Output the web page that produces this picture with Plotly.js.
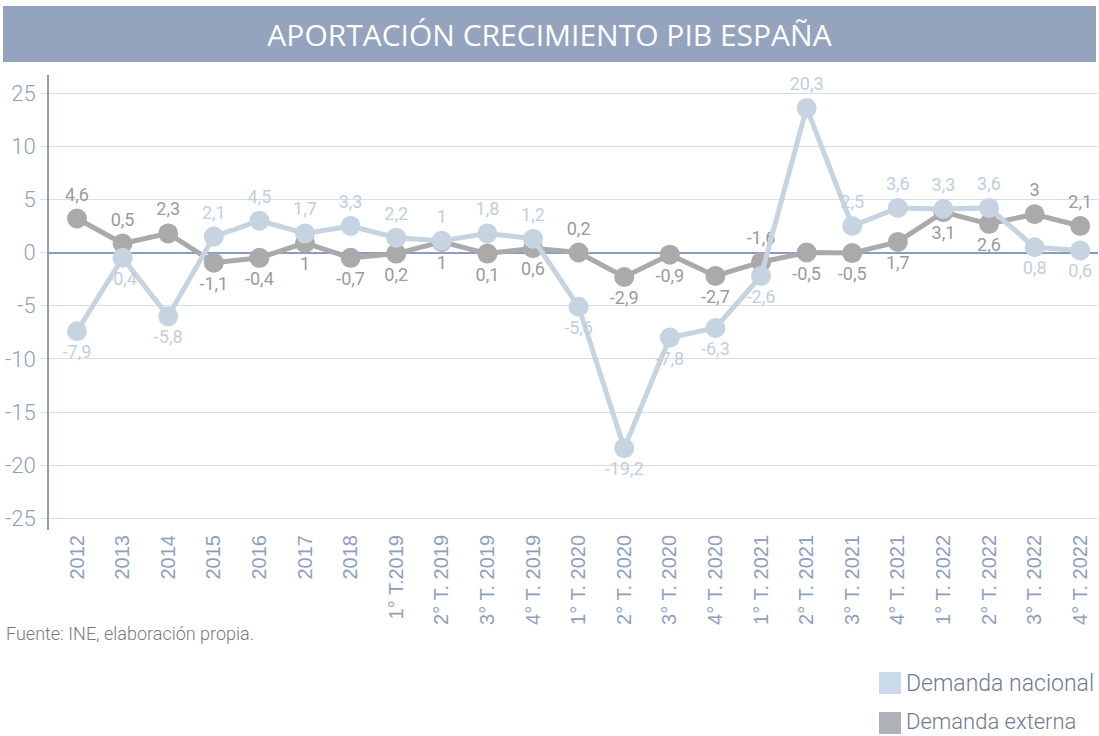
<!DOCTYPE html>
<html>
<head>
<meta charset="utf-8">
<script src="https://cdn.plot.ly/plotly-3.0.1.min.js"></script>
<style>html,body{margin:0;padding:0;background:#fff;}#chart{width:1099px;height:736px;}</style>
</head>
<body>
<div id="chart"></div>
<script>
// Categories
const categories = ["2012","2013","2014","2015","2016","2017","2018",
  "1° T.2019","2° T. 2019","3° T. 2019","4° T. 2019",
  "1° T. 2020","2° T. 2020","3° T. 2020","4° T. 2020",
  "1° T. 2021","2° T. 2021","3° T. 2021","4° T. 2021",
  "1° T. 2022","2° T. 2022","3° T. 2022","4° T. 2022"];

// Plotted positions
const nacionalValues = [-7.4,-0.5,-6.0,1.5,3.0,1.8,2.5,1.4,1.1,1.8,1.3,-5.1,-18.4,-8.0,-7.1,-2.2,13.6,2.5,4.2,4.1,4.2,0.5,0.2];
const externaValues  = [3.2,0.85,1.8,-0.95,-0.5,0.9,-0.5,-0.1,1.0,-0.1,0.4,0.0,-2.3,-0.2,-2.2,-0.9,0.0,-0.05,1.0,3.8,2.7,3.6,2.5];

// Printed data labels
const nacionalLabels = ["-7,9","-0,4","-5,8","2,1","4,5","1,7","3,3","2,2","1","1,8","1,2","-5,6","-19,2","-7,8","-6,3","-2,6","20,3","2,5","3,6","3,3","3,6","0,8","0,6"];
const externaLabels  = ["4,6","0,5","2,3","-1,1","-0,4","1","-0,7","0,2","1","0,1","0,6","0,2","-2,9","-0,9","-2,7","-1,6","-0,5","-0,5","1,7","3,1","2,6","3","2,1"];

// Y tick labels
const yTickVals = [-25,-20,-15,-10,-5,0,5,10,15];
const yTickText = ["-25","-20","-15","-10","-5","0","5","10","25"];

// Series names
const seriesNames = ["Demanda nacional","Demanda externa"];

// Label placement (style config)
const nacAbove = [0,0,0,1,1,1,1,1,1,1,1,0,0,0,0,0,1,1,1,1,1,0,0];
const extAbove = [1,1,1,0,0,0,0,0,0,0,0,1,0,0,0,1,0,0,0,0,0,1,1];

const C_NAC = "#c6d4e1", C_EXT = "#aaaaab";
const AXC = "#8e9fbe";

const traces = [
  {type:"scatter", mode:"lines+markers+text", name:seriesNames[1], x:categories, y:externaValues,
   text:externaLabels, textposition:extAbove.map(a=>a?"top center":"bottom center"),
   textfont:{family:"Roboto", size:18, color:"#9b9b9b"},
   line:{color:C_EXT, width:5}, marker:{color:C_EXT, size:20}, showlegend:false, cliponaxis:false, hoverinfo:"skip"},
  {type:"scatter", mode:"lines+markers+text", name:seriesNames[0], x:categories, y:nacionalValues,
   text:nacionalLabels, textposition:nacAbove.map(a=>a?"top center":"bottom center"),
   textfont:{family:"Roboto", size:18, color:"#c1cfdd"},
   line:{color:C_NAC, width:5}, marker:{color:C_NAC, size:20}, showlegend:false, cliponaxis:false, hoverinfo:"skip"}
];

// plot area in pixels: left 49, right 1098, top 75, bottom 530
const px = x => (x-49)/1049;
const py = y => (530-y)/455;

const layout = {
  width:1099, height:736,
  margin:{l:49, r:1, t:75, b:206},
  paper_bgcolor:"#ffffff", plot_bgcolor:"#ffffff",
  font:{family:"Roboto", color:AXC},
  title:{text:"APORTACIÓN CRECIMIENTO PIB ESPAÑA", font:{family:"Open Sans", size:30, color:"#ffffff"},
         x:0.5, xanchor:"center", y:1-35/736, yanchor:"middle", yref:"container", automargin:false},
  xaxis:{type:"category", categoryorder:"array", categoryarray:categories,
         range:[-0.614, 22.39], showgrid:false, zeroline:false, showline:false, ticks:"",
         tickangle:-90, tickfont:{family:"Liberation Sans", size:20, color:AXC}, fixedrange:true, automargin:false},
  yaxis:{range:[-26.1, 16.7], tickvals:yTickVals, ticktext:yTickText,
         showgrid:true, gridcolor:"#d6deeb", gridwidth:1,
         zeroline:true, zerolinecolor:"#8a9cc2", zerolinewidth:2,
         showline:true, linecolor:AXC, linewidth:2,
         ticks:"outside", ticklen:7, tickcolor:"#d6deeb", tickwidth:1,
         tickfont:{family:"Roboto", size:22, color:AXC, weight:300}, fixedrange:true, automargin:false},
  showlegend:false,
  shapes:[
    {type:"rect", xref:"paper", yref:"paper", x0:px(3), x1:px(1096),
     y0:py(62), y1:py(6), fillcolor:"#94a3be", line:{width:0}, layer:"below"},
    {type:"rect", xref:"paper", yref:"paper", x0:px(879), x1:px(901),
     y0:py(694), y1:py(672), fillcolor:"#cbdbeb", line:{width:0}},
    {type:"rect", xref:"paper", yref:"paper", x0:px(879), x1:px(901),
     y0:py(734), y1:py(712), fillcolor:"#aeb1b7", line:{width:0}}
  ],
  annotations:[
    {text:"Fuente: INE, elaboración propia.", xref:"paper", yref:"paper",
     x:px(4), xanchor:"left", y:py(633), yanchor:"middle", showarrow:false,
     font:{family:"Roboto", size:18, color:"#7a7a7a", weight:300}},
    {text:seriesNames[0], xref:"paper", yref:"paper", x:px(904), xanchor:"left", y:py(683), yanchor:"middle",
     showarrow:false, font:{family:"Roboto", size:23, color:"#6e7c91", weight:300}},
    {text:seriesNames[1], xref:"paper", yref:"paper", x:px(904), xanchor:"left", y:py(721), yanchor:"middle",
     showarrow:false, font:{family:"Roboto", size:22, color:"#6e7c91", weight:300}}
  ]
};

Plotly.newPlot("chart", traces, layout, {displayModeBar:false, staticPlot:true});
</script>
</body>
</html>
